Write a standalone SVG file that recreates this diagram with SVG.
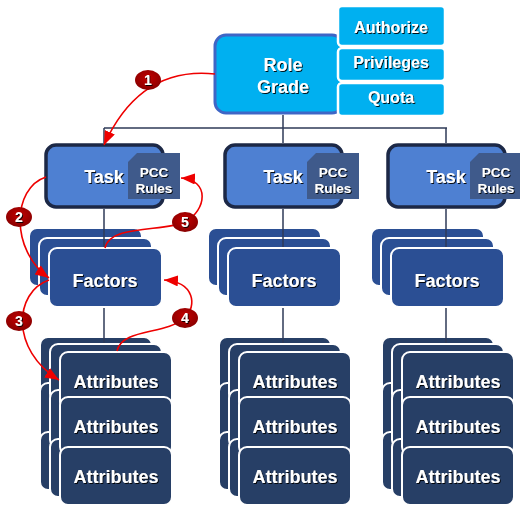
<svg xmlns="http://www.w3.org/2000/svg" xmlns:xlink="http://www.w3.org/1999/xlink" width="520" height="508" viewBox="0 0 520 508">
  <style>
    .lbl { font-family: "Liberation Sans", Arial, sans-serif; font-weight: bold; fill: #ffffff; text-anchor: middle; filter: url(#shadow); }
    .big { font-size: 18px; }
    .mid { font-size: 16px; }
    .sm { font-size: 13.5px; }
    .num { font-size: 14px; }
    .role { fill: #00b0f0; stroke: #3e66c6; stroke-width: 3; }
    .perm { fill: #00b0f0; stroke: #ffffff; stroke-width: 2.5; }
    .task { fill: #4e80d2; stroke: #1c2846; stroke-width: 3.5; }
    .pcc { fill: #3f5a8b; }
    .fac { fill: #2b4f94; stroke: #ffffff; stroke-width: 2; }
    .att { fill: #273f66; stroke: #ffffff; stroke-width: 2; }
    .tree { stroke: #2f3b58; stroke-width: 1.5; fill: none; }
    .flow { stroke: #ee0000; stroke-width: 1.6; fill: none; marker-end: url(#arrow); }
    .badge { fill: url(#badgeFill); }
  </style>
  <defs>
    <filter id="shadow" x="-10%" y="-20%" width="130%" height="150%">
      <feDropShadow dx="1" dy="1" stdDeviation="0.4" flood-color="#000" flood-opacity="0.9"/>
    </filter>
    <radialGradient id="badgeFill" cx="50%" cy="40%" r="60%">
      <stop offset="0" stop-color="#c40000"/>
      <stop offset="1" stop-color="#880000"/>
    </radialGradient>
    <marker id="arrow" markerUnits="userSpaceOnUse" markerWidth="14" markerHeight="11" refX="14" refY="5.5" orient="auto">
      <path d="M0,0 L14,5.5 L0,11 z" fill="#ee0000"/>
    </marker>
    <!-- three layered cards behind each Factors label -->
    <g id="facStack">
      <rect class="fac" x="29" y="228" width="113" height="58" rx="8"/>
      <rect class="fac" x="39" y="238" width="113" height="58" rx="8"/>
      <rect class="fac" x="49" y="248" width="113" height="59" rx="8"/>
    </g>
    <!-- three layers of three stacked Attributes cards -->
    <g id="attStack">
      <rect class="att" x="40" y="337" width="112" height="58" rx="8"/>
      <rect class="att" x="40" y="383" width="112" height="58" rx="8"/>
      <rect class="att" x="40" y="432" width="112" height="58" rx="8"/>
      <rect class="att" x="50" y="344" width="112" height="58" rx="8"/>
      <rect class="att" x="50" y="390" width="112" height="58" rx="8"/>
      <rect class="att" x="50" y="439" width="112" height="58" rx="8"/>
      <rect class="att" x="60" y="352" width="112" height="58" rx="8"/>
      <rect class="att" x="60" y="397" width="112" height="58" rx="8"/>
      <rect class="att" x="60" y="447" width="112" height="58" rx="8"/>
    </g>
    <g id="taskShape">
      <rect class="task" x="46" y="145" width="117" height="62" rx="10"/>
      <path class="pcc" d="M137,153 L180,153 L180,199 L128,199 L128,162 z"/>
    </g>
  </defs>

  <!-- role node with its side panels -->
  <g id="role">
    <rect class="role" x="215" y="35" width="128" height="78" rx="11"/>
    <text class="lbl big" x="283" y="71">Role</text>
    <text class="lbl big" x="283" y="93">Grade</text>
  </g>
  <g id="authorize">
    <rect class="perm" x="338" y="6" width="107" height="40" rx="4"/>
    <text class="lbl mid" x="391" y="33">Authorize</text>
  </g>
  <g id="privileges">
    <rect class="perm" x="338" y="48" width="107" height="33" rx="4"/>
    <text class="lbl mid" x="391" y="68">Privileges</text>
  </g>
  <g id="quota">
    <rect class="perm" x="338" y="83" width="107" height="33" rx="4"/>
    <text class="lbl mid" x="391" y="103">Quota</text>
  </g>

  <!-- task nodes -->
  <g id="task1">
    <use xlink:href="#taskShape"/>
    <text class="lbl big" x="104" y="183">Task</text>
    <text class="lbl sm" x="154" y="177">PCC</text>
    <text class="lbl sm" x="154" y="193">Rules</text>
  </g>
  <g id="task2" transform="translate(179,0)">
    <use xlink:href="#taskShape"/>
    <text class="lbl big" x="104" y="183">Task</text>
    <text class="lbl sm" x="154" y="177">PCC</text>
    <text class="lbl sm" x="154" y="193">Rules</text>
  </g>
  <g id="task3" transform="translate(342,0)">
    <use xlink:href="#taskShape"/>
    <text class="lbl big" x="104" y="183">Task</text>
    <text class="lbl sm" x="154" y="177">PCC</text>
    <text class="lbl sm" x="154" y="193">Rules</text>
  </g>

  <!-- factor stacks -->
  <g id="factors1">
    <use xlink:href="#facStack"/>
    <text class="lbl big" x="105" y="287">Factors</text>
  </g>
  <g id="factors2" transform="translate(179,0)">
    <use xlink:href="#facStack"/>
    <text class="lbl big" x="105" y="287">Factors</text>
  </g>
  <g id="factors3" transform="translate(342,0)">
    <use xlink:href="#facStack"/>
    <text class="lbl big" x="105" y="287">Factors</text>
  </g>

  <!-- attribute stacks -->
  <g id="attributes1">
    <use xlink:href="#attStack"/>
    <text class="lbl big" x="116" y="388">Attributes</text>
    <text class="lbl big" x="116" y="433">Attributes</text>
    <text class="lbl big" x="116" y="483">Attributes</text>
  </g>
  <g id="attributes2" transform="translate(179,0)">
    <use xlink:href="#attStack"/>
    <text class="lbl big" x="116" y="388">Attributes</text>
    <text class="lbl big" x="116" y="433">Attributes</text>
    <text class="lbl big" x="116" y="483">Attributes</text>
  </g>
  <g id="attributes3" transform="translate(342,0)">
    <use xlink:href="#attStack"/>
    <text class="lbl big" x="116" y="388">Attributes</text>
    <text class="lbl big" x="116" y="433">Attributes</text>
    <text class="lbl big" x="116" y="483">Attributes</text>
  </g>

  <!-- hierarchy connectors -->
  <g id="connectors">
    <path class="tree" d="M283,115 V128 M104,128 H447 M104,128 V143 M283,128 V143 M446,128 V143"/>
    <path class="tree" d="M104,209 V247 M283,209 V247 M446,209 V247"/>
    <path class="tree" d="M104,308 V343 M283,308 V343 M446,308 V343"/>
  </g>

  <!-- numbered flow arrows -->
  <g id="flow">
    <path class="flow" d="M215,74 Q140,66 104,145"/>
    <path class="flow" d="M46,177 C12,188 10,250 49,278"/>
    <path class="flow" d="M49,280 C14,292 10,350 59,380"/>
    <path class="flow" d="M117,351 C122,328 165,335 185,318 C197,306 195,282 164,280"/>
    <path class="flow" d="M105,248 C110,224 165,232 185,222 C207,210 210,180 181,178"/>
    <ellipse class="badge" cx="148" cy="80" rx="13" ry="10"/>
    <text class="lbl num" x="148" y="85">1</text>
    <ellipse class="badge" cx="19" cy="217" rx="13" ry="10"/>
    <text class="lbl num" x="19" y="222">2</text>
    <ellipse class="badge" cx="19" cy="321" rx="13" ry="10"/>
    <text class="lbl num" x="19" y="326">3</text>
    <ellipse class="badge" cx="185" cy="318" rx="13" ry="10"/>
    <text class="lbl num" x="185" y="323">4</text>
    <ellipse class="badge" cx="185" cy="222" rx="13" ry="10"/>
    <text class="lbl num" x="185" y="227">5</text>
  </g>
</svg>
